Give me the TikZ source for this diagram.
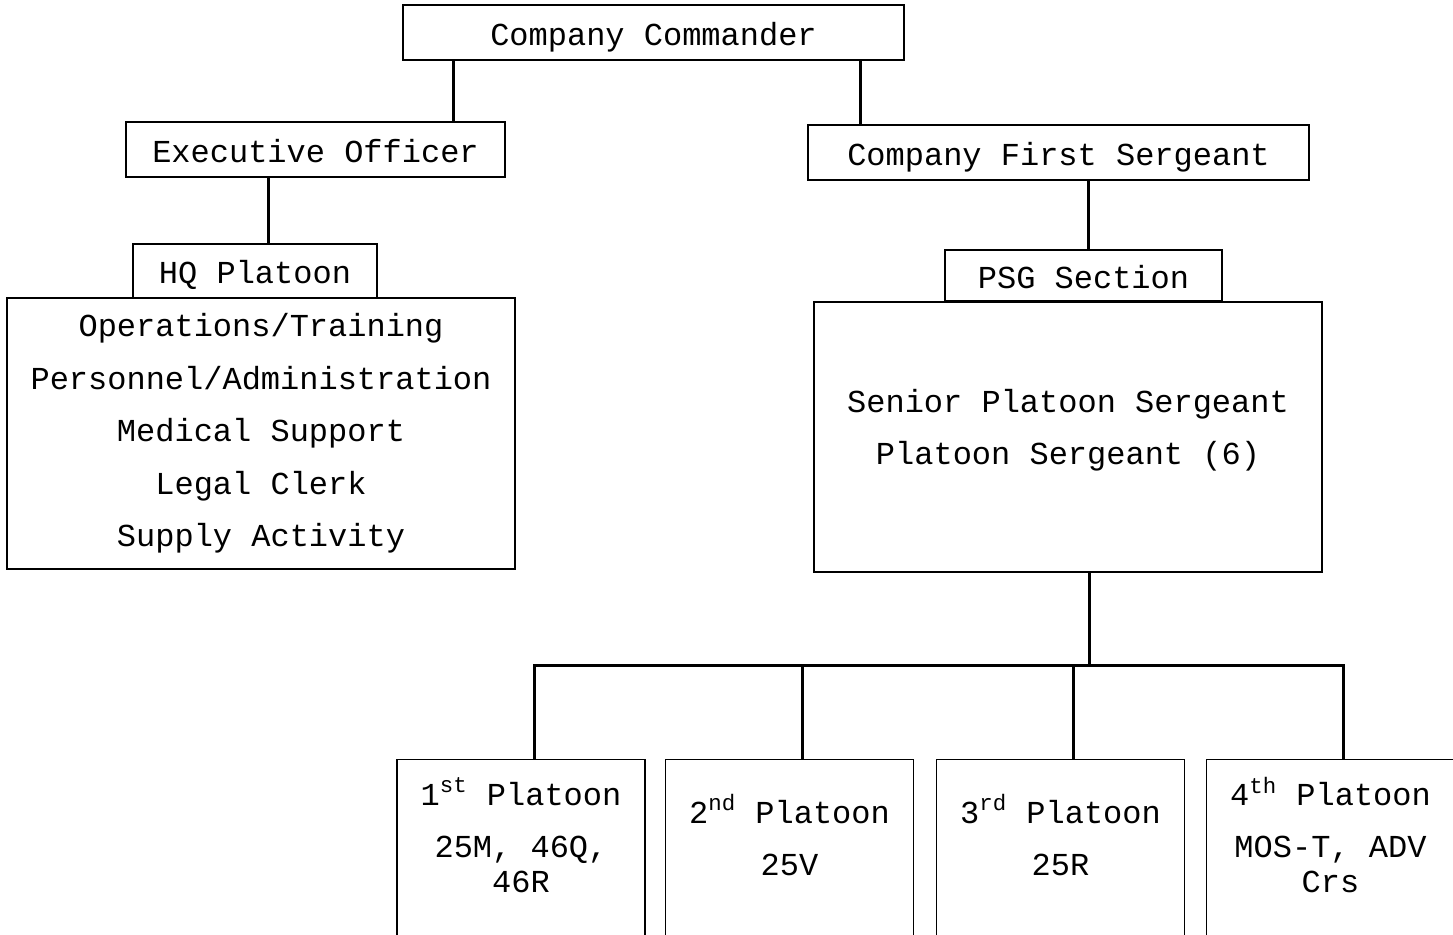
\documentclass[tikz,border=0pt]{standalone}
\usepackage{fontspec}
\setmainfont{Liberation Mono}

\begin{document}
\begin{tikzpicture}[x=0.5pt,y=-0.5pt,
    box/.style={draw, line width=0.6pt, inner sep=0pt, align=center,
        font=\fontsize{16}{26.25}\selectfont},
    oneline/.style={text height=14.5pt, text depth=2pt},
    platbox/.style={draw, line width=0.6pt, anchor=north,
        minimum width=124pt, minimum height=110pt},
    plattext/.style={align=center, inner sep=0pt,
        font=\fontsize{16}{17.5}\selectfont},
    link/.style={line width=1.5pt}]

\useasboundingbox (0,0) rectangle (1453,934);

% --- Comando ---
\node[box, oneline, minimum width=250.5pt, minimum height=27.5pt] (cc) at (653.5,32.5) {Company Commander};
\node[box, oneline, minimum width=189.5pt, minimum height=27.5pt] (xo) at (315.5,149.5) {Executive Officer};
\node[box, oneline, minimum width=250.5pt, minimum height=27.5pt] (fsg) at (1058.5,152.5) {Company First Sergeant};

\draw[link] ([xshift=-100.25pt]cc.south) -- ([xshift=-100.25pt]cc.south |- xo.north);
\draw[link] ([xshift=103.25pt]cc.south) -- ([xshift=103.25pt]cc.south |- fsg.north);

% --- HQ Platoon (sinistra) ---
\node[box, oneline, minimum width=122pt, minimum height=27pt] (hq) at (255,271) {HQ Platoon};
\node[box, minimum width=254pt, minimum height=135.5pt] (hqlist) at (261,433.5)
    {Operations/Training\\Personnel/Administration\\Medical Support\\Legal Clerk\\Supply Activity};

\draw[link] ([xshift=-23.75pt]xo.south) -- ([xshift=-23.75pt]xo.south |- hq.north);

% --- PSG Section (destra) ---
\node[box, oneline, minimum width=138.5pt, minimum height=25.5pt] (psg) at (1083.5,275.5) {PSG Section};
\node[box, text height=38pt, text depth=10.5pt, minimum width=254pt, minimum height=135pt] (psglist) at (1068,437)
    {Senior Platoon Sergeant\\Platoon Sergeant (6)};

\draw[link] ([xshift=14.75pt]fsg.south) -- ([xshift=14.75pt]fsg.south |- psg.north);

% Barra dei plotoni
\coordinate (bus) at (1089,665);
\draw[link] ([xshift=10.5pt]psglist.south) -- (bus);

% --- Plotoni ---
\foreach \i/\x/\txt in {1/521/{1\textsuperscript{st} Platoon\\[8.5pt]25M, 46Q,\\46R},
                        2/789.5/{2\textsuperscript{nd} Platoon\\[8.5pt]25V},
                        3/1060.5/{3\textsuperscript{rd} Platoon\\[8.5pt]25R},
                        4/1330.5/{4\textsuperscript{th} Platoon\\[8.5pt]MOS-T, ADV\\Crs}} {
    \node[platbox] (p\i) at (\x,759) {};
    \node[plattext] (t\i) at (\x,835) {\txt};
    \draw[link] ([xshift=6.5pt]p\i.north) |- (bus);
}

\end{tikzpicture}
\end{document}
